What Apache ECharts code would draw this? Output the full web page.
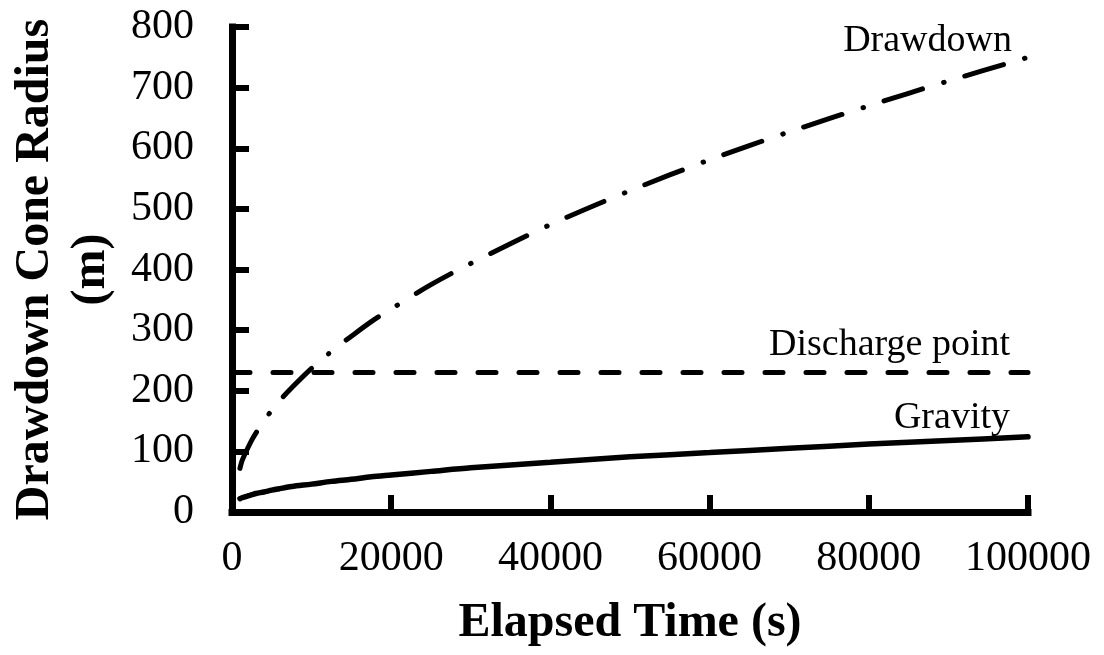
<!DOCTYPE html>
<html><head><meta charset="utf-8">
<script src="https://cdn.jsdelivr.net/npm/echarts@6/dist/echarts.min.js"></script>
<style>html,body{margin:0;padding:0;background:#fff}#c{width:1104px;height:655px}</style>
</head><body><div id="c"></div>
<script>
// Data
const timeS      = [1000,1250,1500,2000,2500,3000,4000,5000,6000,7500,10000,12500,15000,17500,20000,25000,30000,40000,50000,60000,70000,80000,90000,100000];
const drawdownR  = [72,84,92,106,119,130,150,168,184,205,237,265,290,314,335,375,410,474,530,581,627,670,711,750];
const gravityR   = [22,23.5,24.5,26.5,28.5,30.5,33,36,38.5,42,46,50.5,54,58,61,67,73,82,91,98,105,112,118,124];
const dischargeT = [0,100000];
const dischargeR = [230,230];
const seriesNames = ['Drawdown','Discharge point','Gravity'];
const xTitle = 'Elapsed Time (s)';
const yTitle = 'Drawdown Cone Radius\n(m)';

const FONT = "'Liberation Serif','Times New Roman',serif";
const pairs = (xs, ys) => xs.map((x, i) => [x, ys[i]]);

const chart = echarts.init(document.getElementById('c'), null, {renderer:'canvas'});
const option = {
  backgroundColor:'#ffffff',
  animation:false,
  grid:{left:224, right:76, top:27, bottom:143, containLabel:false},
  xAxis:{
    type:'value', min:0, max:100000, interval:20000,
    name:xTitle, nameLocation:'middle', nameGap:88,
    nameTextStyle:{fontFamily:FONT, fontSize:48, fontWeight:'bold', color:'#000'},
    axisLine:{show:true, lineStyle:{color:'#000', width:7, cap:'square'}},
    axisTick:{show:true, inside:true, length:17, lineStyle:{color:'#000', width:6}},
    axisLabel:{fontFamily:FONT, fontSize:42, color:'#000', margin:26, formatter:(v)=>String(v)},
    splitLine:{show:false}
  },
  yAxis:{
    type:'value', min:0, max:800, interval:100,
    name:yTitle, nameLocation:'middle', nameGap:112, nameRotate:90,
    nameTextStyle:{fontFamily:FONT, fontSize:48, fontWeight:'bold', color:'#000', lineHeight:56, align:'center'},
    axisLine:{show:true, lineStyle:{color:'#000', width:7, cap:'square'}},
    axisTick:{show:true, inside:true, length:17, lineStyle:{color:'#000', width:6}},
    axisLabel:{fontFamily:FONT, fontSize:42, color:'#000', margin:38, formatter:(v)=>String(v)},
    splitLine:{show:false}
  },
  series:[
    {name:seriesNames[0], type:'line', data:pairs(timeS, drawdownR), showSymbol:false, symbol:'none', smooth:0.3,
     lineStyle:{color:'#000', width:5, type:[40,22,0.5,22], cap:'round'}},
    {name:seriesNames[1], type:'line', data:pairs(dischargeT, dischargeR), showSymbol:false, symbol:'none',
     lineStyle:{color:'#000', width:5, type:[18,23], cap:'round'}},
    {name:seriesNames[2], type:'line', data:pairs(timeS, gravityR), showSymbol:false, symbol:'none', smooth:0.3,
     lineStyle:{color:'#000', width:5.5, type:'solid', cap:'round'}}
  ]
};
chart.setOption(option);

// Curve labels anchored to each series' last point
const lastD = chart.convertToPixel({gridIndex:0}, pairs(timeS, drawdownR)[timeS.length-1]);
const lastQ = chart.convertToPixel({gridIndex:0}, pairs(dischargeT, dischargeR)[dischargeT.length-1]);
const lastG = chart.convertToPixel({gridIndex:0}, pairs(timeS, gravityR)[timeS.length-1]);
const lbl = (txt, p, dx, dy) => ({type:'text', x:p[0]+dx, y:p[1]+dy,
  style:{text:txt, font:"38px " + FONT, fill:'#000', textAlign:'right', textVerticalAlign:'bottom'}});
chart.setOption({graphic:[
  lbl(seriesNames[0], lastD, -16, 3),
  lbl(seriesNames[1], lastQ, -18, -9),
  lbl(seriesNames[2], lastG, -18, 0)
]});
</script></body></html>
